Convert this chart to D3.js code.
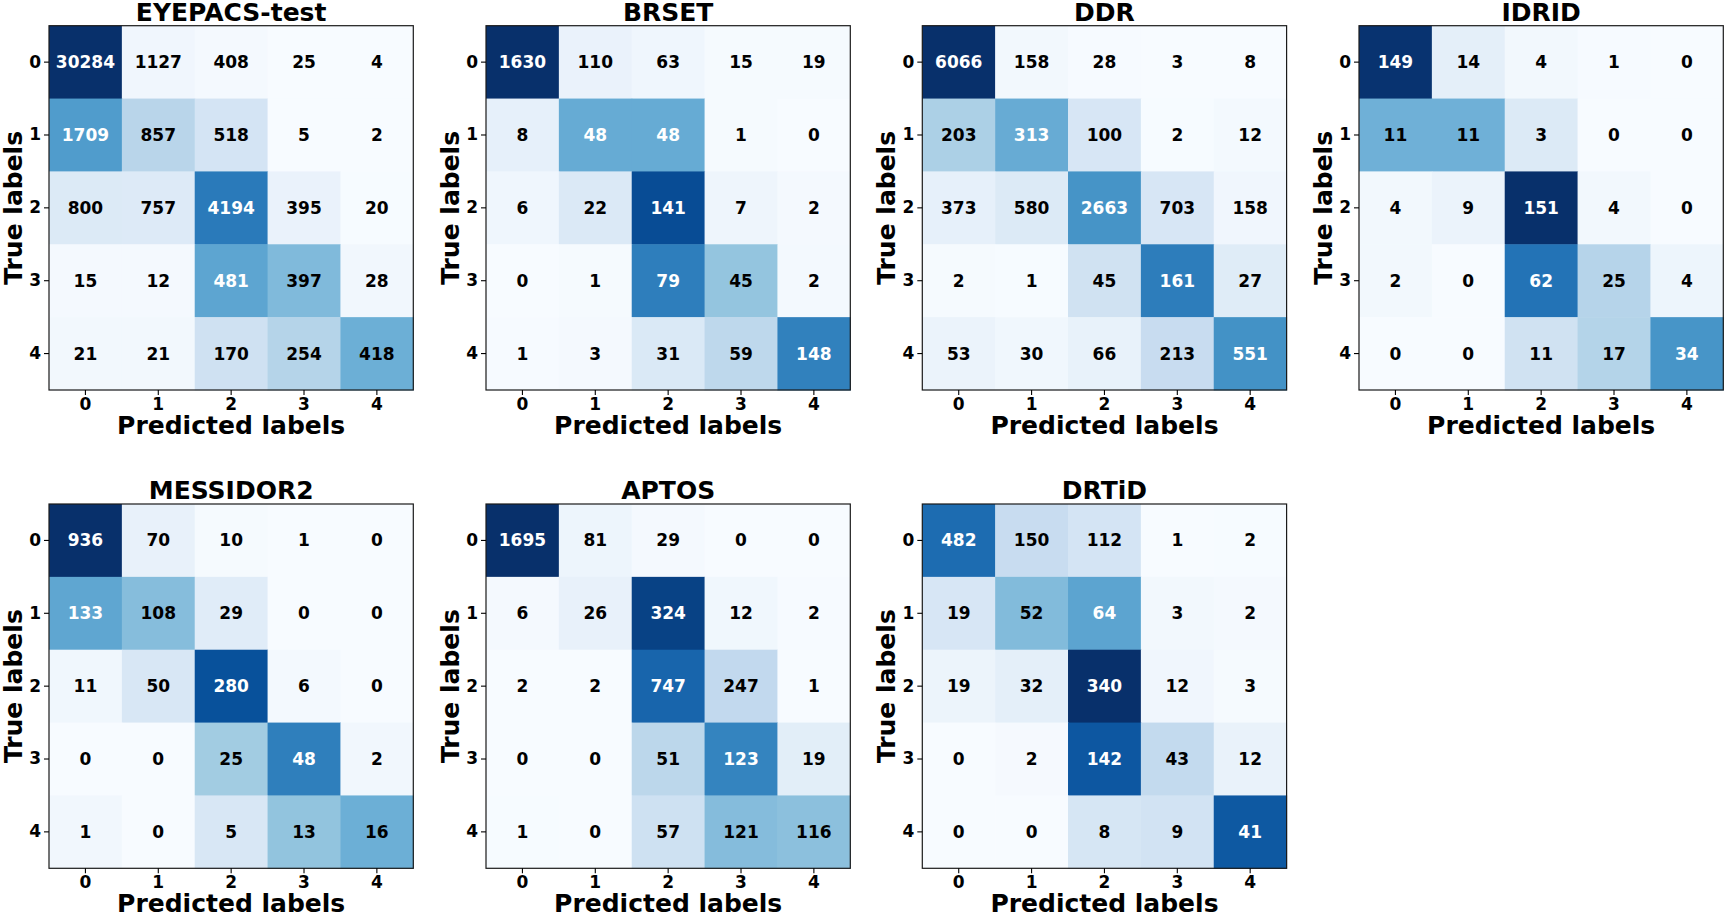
<!DOCTYPE html>
<html>
<head>
<meta charset="utf-8">
<script src="https://cdn.jsdelivr.net/npm/d3@7"></script>
<style>
  body { margin: 0; background: #fff; }
  svg { display: block; font-family: "DejaVu Sans", sans-serif; }
  .tick text { font-size: 17px; font-weight: bold; font-family: "DejaVu Sans", sans-serif; }
</style>
</head>
<body>
<svg id="chart" width="1728" height="916"></svg>
<script>
// class labels shared by every matrix
var classLabels = [0, 1, 2, 3, 4];

// confusion matrices, rows = true label, cols = predicted label
var eyepacs = [
  [30284, 1127, 408, 25, 4],
  [1709, 857, 518, 5, 2],
  [800, 757, 4194, 395, 20],
  [15, 12, 481, 397, 28],
  [21, 21, 170, 254, 418]
];
var brset = [
  [1630, 110, 63, 15, 19],
  [8, 48, 48, 1, 0],
  [6, 22, 141, 7, 2],
  [0, 1, 79, 45, 2],
  [1, 3, 31, 59, 148]
];
var ddr = [
  [6066, 158, 28, 3, 8],
  [203, 313, 100, 2, 12],
  [373, 580, 2663, 703, 158],
  [2, 1, 45, 161, 27],
  [53, 30, 66, 213, 551]
];
var idrid = [
  [149, 14, 4, 1, 0],
  [11, 11, 3, 0, 0],
  [4, 9, 151, 4, 0],
  [2, 0, 62, 25, 4],
  [0, 0, 11, 17, 34]
];
var messidor2 = [
  [936, 70, 10, 1, 0],
  [133, 108, 29, 0, 0],
  [11, 50, 280, 6, 0],
  [0, 0, 25, 48, 2],
  [1, 0, 5, 13, 16]
];
var aptos = [
  [1695, 81, 29, 0, 0],
  [6, 26, 324, 12, 2],
  [2, 2, 747, 247, 1],
  [0, 0, 51, 123, 19],
  [1, 0, 57, 121, 116]
];
var drtid = [
  [482, 150, 112, 1, 2],
  [19, 52, 64, 3, 2],
  [19, 32, 340, 12, 3],
  [0, 2, 142, 43, 12],
  [0, 0, 8, 9, 41]
];

var panelTitles = ['EYEPACS-test', 'BRSET', 'DDR', 'IDRID', 'MESSIDOR2', 'APTOS', 'DRTiD'];
var panelData = [eyepacs, brset, ddr, idrid, messidor2, aptos, drtid];

// matplotlib "Blues"
var bluesStops = ['#f7fbff', '#deebf7', '#c6dbef', '#9ecae1', '#6baed6',
                  '#4292c6', '#2171b5', '#08519c', '#08306b'];

var svg = d3.select('#chart');
var size = 364.3;
var colLeft = [49, 486, 922.3, 1359];
var rowTop = [25.7, 504];

var drawPanel = function(i) {
  var m = panelData[i];
  var left = colLeft[i % 4], top = rowTop[Math.floor(i / 4)];

  // row normalised values decide colour and text colour
  var norm = m.map(function(row) {
    var s = d3.sum(row);
    return row.map(function(v) { return s ? v / s : 0; });
  });
  var flat = d3.merge(norm);
  var lo = d3.min(flat), hi = d3.max(flat);
  var color = d3.scaleLinear()
    .domain(bluesStops.map(function(c, k) { return lo + (hi - lo) * k / (bluesStops.length - 1); }))
    .range(bluesStops)
    .interpolate(d3.interpolateRgb);

  var x = d3.scaleBand().domain(classLabels).range([left, left + size]);
  var y = d3.scaleBand().domain(classLabels).range([top, top + size]);

  var cells = [];
  m.forEach(function(row, r) {
    row.forEach(function(v, c) {
      cells.push({ r: r, c: c, v: v, n: norm[r][c] });
    });
  });

  var g = svg.append('g');
  g.selectAll('.cell')
    .data(cells)
    .enter().append('rect')
    .attr('class', 'cell')
    .attr('x', function(d) { return x(d.c); })
    .attr('y', function(d) { return y(d.r); })
    .attr('width', x.bandwidth() + 0.5)
    .attr('height', y.bandwidth() + 0.5)
    .attr('fill', function(d) { return color(d.n); });

  g.selectAll('.val')
    .data(cells)
    .enter().append('text')
    .attr('class', 'val')
    .attr('x', function(d) { return x(d.c) + x.bandwidth() / 2; })
    .attr('y', function(d) { return y(d.r) + y.bandwidth() / 2 + 6; })
    .attr('text-anchor', 'middle')
    .style('font-size', '17px')
    .style('font-weight', 'bold')
    .attr('fill', function(d) { return d.n > hi / 2 ? '#ffffff' : '#000000'; })
    .text(function(d) { return d.v; });

  // frame
  g.append('rect')
    .attr('x', left).attr('y', top)
    .attr('width', size).attr('height', size)
    .attr('fill', 'none')
    .attr('stroke', '#1a1a1a')
    .attr('stroke-width', 1.2);

  var xAxis = g.append('g')
    .attr('transform', 'translate(0,' + (top + size) + ')')
    .call(d3.axisBottom(x).tickSize(5).tickPadding(3));
  var yAxis = g.append('g')
    .attr('transform', 'translate(' + left + ',0)')
    .call(d3.axisLeft(y).tickSize(5).tickPadding(3));
  [xAxis, yAxis].forEach(function(a) {
    a.attr('font-size', null).attr('font-family', null);
    a.select('.domain').remove();
    a.selectAll('.tick line').attr('stroke', '#000').attr('stroke-width', 1.1);
    a.selectAll('.tick text').attr('fill', '#000');
  });

  g.append('text')
    .attr('x', left + size / 2)
    .attr('y', top - 5)
    .attr('text-anchor', 'middle')
    .style('font-size', '25px')
    .style('font-weight', 'bold')
    .text(panelTitles[i]);

  g.append('text')
    .attr('x', left + size / 2)
    .attr('y', top + size + 44)
    .attr('text-anchor', 'middle')
    .style('font-size', '25px')
    .style('font-weight', 'bold')
    .text('Predicted labels');

  g.append('text')
    .attr('transform', 'translate(' + (left - 27.5) + ',' + (top + size / 2) + ') rotate(-90)')
    .attr('text-anchor', 'middle')
    .style('font-size', '25px')
    .style('font-weight', 'bold')
    .text('True labels');
};

panelData.forEach(function(d, i) { drawPanel(i); });
</script>
</body>
</html>
